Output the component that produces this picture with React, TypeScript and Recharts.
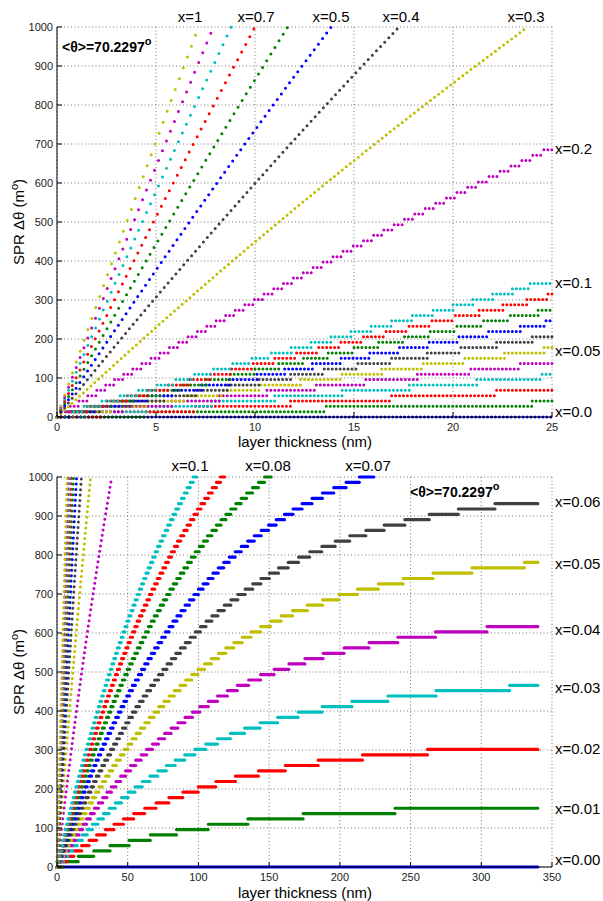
import React from 'react';
import { LineChart, Line, XAxis, YAxis, CartesianGrid } from 'recharts';

// ---------------- data ----------------
const seriesLabels = ['0.0', '0.01', '0.02', '0.03', '0.04', '0.05', '0.06', '0.07', '0.08', '0.09', '0.1', '0.2', '0.3', '0.4', '0.5', '0.6', '0.7', '0.8', '0.9', '1'];
const seriesColors = ['#0000FF', '#008000', '#FF0000', '#00BFBF', '#BF00BF', '#BFBF00', '#404040', '#0000FF', '#008000', '#FF0000', '#00BFBF', '#BF00BF', '#BFBF00', '#404040', '#0000FF', '#008000', '#FF0000', '#00BFBF', '#BF00BF', '#BFBF00'];

// quantised SPR levels (m°)
const stepLevels = [0, 13.7, 27.4, 41.1, 54.8, 68.5, 82.2, 95.9, 109.6, 123.3, 137, 150.7, 164.4, 178.1, 191.8, 205.5, 219.2, 232.9, 246.6, 260.3, 274, 287.7, 301.4, 315.1, 328.8, 342.5, 356.2, 369.9, 383.6, 397.3, 411, 424.7, 438.4, 452.1, 465.8, 479.5, 493.2, 506.9, 520.6, 534.3, 548, 561.7, 575.4, 589.1, 602.8, 616.5, 630.2, 643.9, 657.6, 671.3, 685, 698.7, 712.4, 726.1, 739.8, 753.5, 767.2, 780.9, 794.6, 808.3, 822, 835.7, 849.4, 863.1, 876.8, 890.5, 904.2, 917.9, 931.6, 945.3, 959, 972.7, 986.4, 1000];

const yTicks = [0, 100, 200, 300, 400, 500, 600, 700, 800, 900, 1000];
const topXTicks = [0, 5, 10, 15, 20, 25];
const bottomXTicks = [0, 50, 100, 150, 200, 250, 300, 350];
const topEnd = 25;

// top panel: thickness (nm) at which each successive level starts
const topSteps000: number[] = [];
const topSteps001 = [4.5, 13.6, 24.0];
const topSteps002 = [2.3, 7.0, 11.8, 16.9, 22.2];
const topSteps003 = [1.5, 4.6, 7.8, 11.0, 14.4, 17.8, 21.2, 24.5];
const topSteps004 = [1.1, 3.4, 5.8, 8.2, 10.6, 13.1, 15.6, 18.2, 20.9, 23.4];
const topSteps005 = [0.9, 2.7, 4.6, 6.5, 8.4, 10.3, 12.3, 14.4, 16.4, 18.5, 20.6, 22.6, 24.6];
const topSteps006 = [0.75, 2.3, 3.8, 5.4, 7.0, 8.6, 10.2, 11.8, 13.5, 15.2, 16.9, 18.7, 20.4, 22.2, 24.0];
const topSteps007 = [0.65, 1.95, 3.3, 4.6, 5.9, 7.3, 8.7, 10.1, 11.5, 12.9, 14.35, 15.8, 17.3, 18.8, 20.3, 21.8, 23.4, 24.7];
const topSteps008 = [0.56, 1.7, 2.85, 4.0, 5.2, 6.35, 7.55, 8.75, 10.0, 11.2, 12.45, 13.7, 15.0, 16.25, 17.55, 18.85, 20.2, 21.55, 22.9, 24.3];
const topSteps009 = [0.5, 1.51, 2.53, 3.55, 4.59, 5.63, 6.69, 7.75, 8.82, 9.91, 11.0, 12.1, 13.22, 14.34, 15.48, 16.62, 17.78, 18.94, 20.12, 21.32, 22.52, 23.73, 24.8];
const topSteps010 = [0.45, 1.36, 2.27, 3.19, 4.12, 5.06, 6.0, 6.95, 7.91, 8.88, 9.85, 10.83, 11.83, 12.83, 13.84, 14.85, 15.87, 16.9, 17.95, 19.0, 20.0, 21.0, 22.0, 23.0, 23.9];
const topSteps020 = [0.22, 0.67, 1.11, 1.56, 2.01, 2.46, 2.91, 3.37, 3.83, 4.29, 4.75, 5.21, 5.68, 6.15, 6.62, 7.09, 7.57, 8.04, 8.52, 9.0, 9.49, 9.97, 10.46, 10.95, 11.44, 11.94, 12.44, 12.94, 13.44, 13.94, 14.45, 14.96, 15.48, 15.99, 16.51, 17.03, 17.55, 18.07, 18.6, 19.13, 19.67, 20.2, 20.74, 21.28, 21.82, 22.38, 22.93, 23.48, 24.03, 24.59];

// bottom panel: thickness (nm) at which each successive level starts
const bottomSteps000: number[] = [];
const bottomSteps001 = [4.6, 15, 26, 37.5, 51, 66, 84.5, 107, 135, 174, 239];
const bottomSteps002 = [2.3, 7.0, 11.9, 17.4, 22.7, 28, 34.2, 40.3, 47, 54.2, 62, 70, 79.1, 89, 99.9, 112.3, 126.2, 142.4, 161.4, 184.7, 216, 262];
const bottomSteps003 = [1.5, 4.6, 7.8, 11.0, 14.4, 17.9, 21.4, 25.1, 28.9, 32.8, 36.9, 41.2, 45.6, 50.3, 55.2, 60.3, 65.7, 71.3, 77.3, 83.6, 90.3, 97.5, 105.2, 113.5, 122.6, 132.6, 143.6, 156, 170.5, 187.5, 208.5, 234, 268, 320];
const bottomSteps004 = [1.1, 3.4, 5.8, 8.1, 10.6, 13.1, 15.6, 18.2, 20.9, 23.6, 26.4, 29.3, 32.3, 35.3, 38.5, 41.7, 45.0, 48.5, 52.0, 55.7, 59.5, 63.4, 67.5, 71.7, 76.1, 80.7, 85.5, 90.5, 95.8, 101, 107, 113.5, 120.5, 127.5, 135.5, 144, 153.5, 164, 175.3, 188.2, 203, 220.6, 241, 267.6, 304];
const bottomSteps005 = [0.9, 2.7, 4.6, 6.5, 8.4, 10.3, 12.3, 14.3, 16.4, 18.5, 20.6, 22.8, 25.0, 27.3, 29.6, 32.0, 34.4, 36.9, 39.4, 42.0, 44.7, 47.4, 50.2, 53.0, 56.0, 59.0, 62.1, 65.3, 68.6, 72.0, 75.6, 79.3, 83.0, 87.0, 91.0, 95.3, 99.7, 104.3, 109.1, 114.2, 119.4, 125.0, 131.0, 137.2, 144.0, 151.0, 158.5, 166.5, 177, 187.8, 199.5, 212.4, 227.2, 244.8, 265.9, 293.4, 330.5];
const bottomSteps006 = [0.74, 2.24, 3.76, 5.31, 6.88, 8.47, 10.08, 11.72, 13.39, 15.09, 16.8, 18.55, 20.34, 22.15, 23.98, 25.86, 27.77, 29.7, 31.7, 33.7, 35.8, 37.9, 40.0, 42.2, 44.1, 46.3, 48.6, 50.9, 53.3, 55.8, 58.3, 60.9, 63.5, 66.2, 69.0, 71.8, 74.8, 77.8, 80.9, 84.0, 87.3, 90.7, 94.2, 97.8, 101.4, 105.4, 109.5, 113.8, 118.3, 122.9, 127.9, 133.0, 138.4, 144.2, 150.2, 156.6, 163.5, 170.8, 178.7, 187.3, 196.7, 207, 218.4, 231.3, 246, 263.2, 283.8, 309.7];
const bottomSteps007 = [0.62, 1.88, 3.15, 4.44, 5.75, 7.07, 8.41, 9.77, 11.14, 12.54, 13.96, 15.39, 16.83, 18.31, 19.8, 21.32, 22.86, 24.42, 26.02, 27.62, 29.26, 30.93, 32.61, 34.34, 36.08, 37.86, 39.68, 41.51, 43.39, 45.31, 47.25, 49.23, 51.26, 53.32, 55.43, 57.58, 59.78, 62.03, 64.31, 66.66, 69.04, 71.51, 74.05, 76.62, 79.26, 81.99, 84.77, 87.65, 90.58, 93.64, 96.78, 100.0, 103.3, 106.8, 110.3, 114.0, 117.9, 121.8, 126.0, 130.3, 134.8, 139.5, 144.4, 149.6, 155.0, 160.8, 166.9, 173.3, 180.3, 187.7, 195.7, 204.4, 213.8];
const bottomSteps008 = [0.54, 1.63, 2.73, 3.85, 4.97, 6.11, 7.26, 8.43, 9.61, 10.79, 12.0, 13.22, 14.46, 15.71, 16.96, 18.25, 19.55, 20.86, 22.19, 23.54, 24.9, 26.28, 27.69, 29.11, 30.56, 32.01, 33.5, 35.0, 36.53, 38.08, 39.64, 41.25, 42.88, 44.52, 46.2, 47.9, 49.64, 51.39, 53.19, 55.01, 56.87, 58.75, 60.69, 62.65, 64.66, 66.68, 68.77, 70.91, 73.08, 75.28, 77.55, 79.87, 82.25, 84.66, 87.15, 89.69, 92.32, 94.98, 97.73, 100.6, 103.5, 106.4, 109.5, 112.7, 116.0, 119.4, 122.9, 126.5, 130.2, 134.1, 138.2, 142.4, 146.8];
const bottomSteps009 = [0.48, 1.45, 2.42, 3.41, 4.40, 5.41, 6.42, 7.45, 8.48, 9.53, 10.59, 11.66, 12.73, 13.82, 14.92, 16.04, 17.16, 18.29, 19.45, 20.61, 21.79, 22.98, 24.18, 25.41, 26.65, 27.89, 29.16, 30.44, 31.73, 33.04, 34.37, 35.71, 37.08, 38.46, 39.86, 41.28, 42.71, 44.18, 45.66, 47.16, 48.69, 50.24, 51.82, 53.43, 55.04, 56.69, 58.37, 60.07, 61.8, 63.56, 65.35, 67.18, 69.03, 70.93, 72.84, 74.81, 76.81, 78.85, 80.93, 83.05, 85.22, 87.44, 89.69, 92.01, 94.38, 96.8, 99.27, 101.8, 104.4, 107.1, 109.8, 112.7, 115.6];
const bottomSteps010 = [0.43, 1.30, 2.18, 3.07, 3.96, 4.86, 5.77, 6.69, 7.61, 8.55, 9.49, 10.44, 11.4, 12.37, 13.35, 14.33, 15.34, 16.34, 17.36, 18.38, 19.42, 20.46, 21.52, 22.6, 23.68, 24.77, 25.87, 26.99, 28.12, 29.26, 30.41, 31.57, 32.75, 33.95, 35.15, 36.39, 37.62, 38.86, 40.14, 41.42, 42.71, 44.02, 45.36, 46.71, 48.08, 49.47, 50.88, 52.29, 53.75, 55.22, 56.69, 58.21, 59.74, 61.27, 62.86, 64.46, 66.08, 67.75, 69.43, 71.13, 72.86, 74.63, 76.44, 78.27, 80.14, 82.02, 83.96, 85.94, 87.94, 89.99, 92.08, 94.2, 96.38];
// thickness where each bottom staircase leaves the plot (right edge or top edge)
const bottomStairEnds = [340, 340, 340, 340, 340, 340, 340, 224, 151.4, 118.6, 98.6];

// steep series: thickness (nm) where SPR shift reaches 0, 250, 500, 750, 1000 m°
const anchorTheta = [0, 250, 500, 750, 1000];
const anchorT020 = [0, 8.4, 17.5, 27.6, 38.7];
const anchorT030 = [0, 5.45, 11.2, 17.3, 23.77];
const anchorT040 = [0, 4.05, 8.28, 12.68, 17.27];
const anchorT050 = [0, 3.29, 6.69, 10.2, 13.85];
const anchorT060 = [0, 2.79, 5.66, 8.61, 11.65];
const anchorT070 = [0, 2.41, 4.87, 7.4, 10.0];
const anchorT080 = [0, 2.13, 4.31, 6.53, 8.8];
const anchorT090 = [0, 1.92, 3.87, 5.87, 7.9];
const anchorT100 = [0, 1.74, 3.52, 5.32, 7.15];

// ---------------- helpers ----------------
type Pt = { t: number; v: number | null };
function stairData(starts: number[], end: number): Pt[] {
  const pts: Pt[] = [];
  for (let k = 0; k <= starts.length; k++) {
    const t0 = k === 0 ? 0 : starts[k - 1];
    const t1 = k < starts.length ? starts[k] : end;
    pts.push({ t: t0, v: stepLevels[k] }, { t: t1, v: stepLevels[k] }, { t: t1, v: null });
  }
  return pts;
}
function curveData(ts: number[], thetas: number[]): Pt[] {
  return ts.map((t, i) => ({ t, v: thetas[i] }));
}

const topStairs = [topSteps000, topSteps001, topSteps002, topSteps003, topSteps004, topSteps005, topSteps006, topSteps007, topSteps008, topSteps009, topSteps010, topSteps020];
const bottomStairs = [bottomSteps000, bottomSteps001, bottomSteps002, bottomSteps003, bottomSteps004, bottomSteps005, bottomSteps006, bottomSteps007, bottomSteps008, bottomSteps009, bottomSteps010];
const topCurves = [anchorT030, anchorT040, anchorT050, anchorT060, anchorT070, anchorT080, anchorT090, anchorT100];
const bottomCurves = [anchorT020, anchorT030, anchorT040, anchorT050, anchorT060, anchorT070, anchorT080, anchorT090, anchorT100];

// styles
const topDotGap = [5.1, 6.0, 6.9, 7.8, 8.7, 9.7, 10.6, 11.6];

const FONT = 'Liberation Sans, Arial, Helvetica, sans-serif';

const BottomTick = (p: any) => (
  <g>
    <line x1={p.x} y1={p.y} x2={p.x} y2={p.y - 5} stroke="#000" strokeWidth={1} />
    <text x={p.x} y={p.y + 13.5} textAnchor="middle" fontSize={11} fill="#222" fontFamily={FONT}>{p.payload.value}</text>
  </g>
);
const TopTick = (p: any) => (
  <line x1={p.x} y1={p.y} x2={p.x} y2={p.y + 5} stroke="#000" strokeWidth={1} />
);
const LeftTick = (p: any) => (
  <g>
    <line x1={p.x} y1={p.y} x2={p.x + 5} y2={p.y} stroke="#000" strokeWidth={1} />
    <text x={p.x - 4} y={p.y + 4} textAnchor="end" fontSize={11} fill="#222" fontFamily={FONT}>{p.payload.value}</text>
  </g>
);
const RightTick = (p: any) => (
  <line x1={p.x} y1={p.y} x2={p.x - 5} y2={p.y} stroke="#000" strokeWidth={1} />
);

const margin = { top: 27, right: 51, bottom: 3, left: 7 };

function axes(xMax: number, xTicks: number[]) {
  return [
    <CartesianGrid key="grid" stroke="#555" strokeDasharray="1 2.5" strokeWidth={0.8} />,
    <XAxis key="xb" type="number" dataKey="t" domain={[0, xMax]} ticks={xTicks} interval={0} tickSize={0} tickMargin={0} tickLine={false} axisLine={{ stroke: '#000' }} height={30} tick={<BottomTick />} />,
    <XAxis key="xt" xAxisId="top" orientation="top" type="number" dataKey="t" domain={[0, xMax]} ticks={xTicks} interval={0} tickSize={0} tickMargin={0} tickLine={false} axisLine={{ stroke: '#000' }} height={0} tick={<TopTick />} />,
    <YAxis key="yl" type="number" domain={[0, 1000]} ticks={yTicks} interval={0} tickSize={0} tickMargin={0} tickLine={false} axisLine={{ stroke: '#000' }} width={50} tick={<LeftTick />} />,
    <YAxis key="yr" yAxisId="right" orientation="right" type="number" domain={[0, 1000]} ticks={yTicks} interval={0} tickSize={0} tickMargin={0} tickLine={false} axisLine={{ stroke: '#000' }} width={0} tick={<RightTick />} />,
  ];
}

function TopChart() {
  const lines: any[] = [];
  topStairs.forEach((s, i) => {
    lines.push(
      <Line key={'ts' + i} data={stairData(s, topEnd)} dataKey="v" type="linear" stroke={seriesColors[i]} strokeWidth={3} strokeLinecap="round" strokeDasharray="0 3.95" dot={false} activeDot={false} isAnimationActive={false} connectNulls={false} />
    );
  });
  topCurves.forEach((c, j) => {
    const idx = 12 + j;
    lines.push(
      <Line key={'tc' + idx} data={curveData(c, anchorTheta)} dataKey="v" type="monotone" stroke={seriesColors[idx]} strokeWidth={3} strokeLinecap="round" strokeDasharray={`0 ${topDotGap[j]}`} dot={false} activeDot={false} isAnimationActive={false} />
    );
  });
  return (
    <LineChart width={603} height={450} margin={margin}>
      {axes(topEnd, topXTicks)}
      {lines}
    </LineChart>
  );
}

function BottomChart() {
  const lines: any[] = [];
  bottomStairs.forEach((s, i) => {
    lines.push(
      <Line key={'bs' + i} data={stairData(s, bottomStairEnds[i])} dataKey="v" type="linear" stroke={seriesColors[i]} strokeWidth={3.2} strokeLinecap="round" dot={false} activeDot={false} isAnimationActive={false} connectNulls={false} />
    );
  });
  bottomCurves.forEach((c, j) => {
    const idx = 11 + j;
    lines.push(
      <Line key={'bc' + idx} data={curveData(c, anchorTheta)} dataKey="v" type="monotone" stroke={seriesColors[idx]} strokeWidth={3} strokeLinecap="round" strokeDasharray="0 5.4" dot={false} activeDot={false} isAnimationActive={false} />
    );
  });
  return (
    <LineChart width={603} height={450} margin={margin}>
      {axes(350, bottomXTicks)}
      {lines}
    </LineChart>
  );
}

const topLabelsAbove = [
  { text: 'x=' + seriesLabels[19], x: 190 },
  { text: 'x=' + seriesLabels[16], x: 256 },
  { text: 'x=' + seriesLabels[14], x: 331 },
  { text: 'x=' + seriesLabels[13], x: 401 },
  { text: 'x=' + seriesLabels[12], x: 526 },
];
const topLabelsRight = [
  { text: 'x=0.2', y: 153.7 },
  { text: 'x=0.1', y: 288 },
  { text: 'x=0.05', y: 356 },
  { text: 'x=0.0', y: 416.7 },
];
const bottomLabelsAbove = [
  { text: 'x=0.1', x: 190 },
  { text: 'x=0.08', x: 268 },
  { text: 'x=0.07', x: 368 },
];
const bottomLabelsRight = [
  { text: 'x=0.06', y: 507 },
  { text: 'x=0.05', y: 568.7 },
  { text: 'x=0.04', y: 634.7 },
  { text: 'x=0.03', y: 692.7 },
  { text: 'x=0.02', y: 754 },
  { text: 'x=0.01', y: 814.4 },
  { text: 'x=0.00', y: 864.7 },
];

function ThetaLabel({ x, y }: { x: number; y: number }) {
  return (
    <text x={x} y={y} fontSize={14} fontWeight="bold" fontFamily={FONT} fill="#000">
      {'<θ>=70.2297'}
      <tspan dy={-7} fontSize={11}>o</tspan>
    </text>
  );
}

function YTitle({ cy }: { cy: number }) {
  return (
    <text x={24} y={cy} transform={`rotate(-90 24 ${cy})`} textAnchor="middle" fontSize={15} fontFamily={FONT} fill="#000">
      {'SPR Δθ (m'}
      <tspan dy={-6} fontSize={11}>o</tspan>
      <tspan dy={6}>)</tspan>
    </text>
  );
}

function Overlay() {
  return (
    <svg width={603} height={901} style={{ position: 'absolute', left: 0, top: 0, pointerEvents: 'none' }}>
      {topLabelsAbove.map((l) => (
        <text key={l.text} x={l.x} y={22} textAnchor="middle" fontSize={15} fontFamily={FONT} fill="#000">{l.text}</text>
      ))}
      {topLabelsRight.map((l) => (
        <text key={l.text} x={555} y={l.y} fontSize={15} fontFamily={FONT} fill="#000">{l.text}</text>
      ))}
      {bottomLabelsAbove.map((l) => (
        <text key={l.text} x={l.x} y={471.4} textAnchor="middle" fontSize={15} fontFamily={FONT} fill="#000">{l.text}</text>
      ))}
      {bottomLabelsRight.map((l) => (
        <text key={l.text} x={555} y={l.y} fontSize={15} fontFamily={FONT} fill="#000">{l.text}</text>
      ))}
      <ThetaLabel x={62} y={52} />
      <ThetaLabel x={410} y={497} />
      <text x={305} y={447} textAnchor="middle" fontSize={15} fontFamily={FONT} fill="#000">layer thickness (nm)</text>
      <text x={305} y={898} textAnchor="middle" fontSize={15} fontFamily={FONT} fill="#000">layer thickness (nm)</text>
      <YTitle cy={222} />
      <YTitle cy={672} />
    </svg>
  );
}

export default function App() {
  return (
    <div style={{ position: 'absolute', left: 0, top: 0, width: 603, height: 901, background: '#fff', fontFamily: FONT }}>
      <div style={{ position: 'absolute', left: 0, top: 0 }}>
        <TopChart />
      </div>
      <div style={{ position: 'absolute', left: 0, top: 450 }}>
        <BottomChart />
      </div>
      <Overlay />
    </div>
  );
}
